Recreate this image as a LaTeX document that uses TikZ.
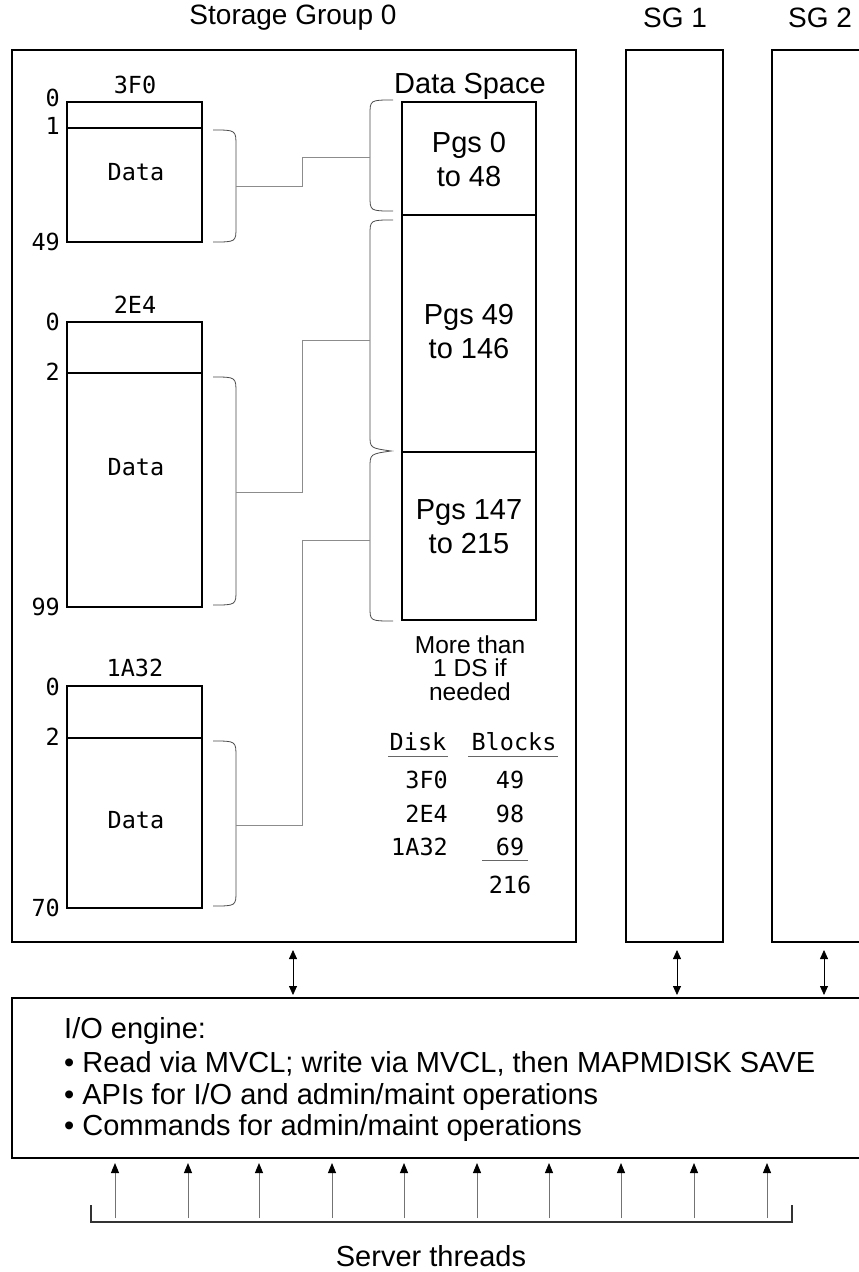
\documentclass[tikz,border=0pt]{standalone}
\usepackage{fontspec}
\setmainfont{Liberation Sans}
\newfontfamily\monof{DejaVu Sans Mono}
\usetikzlibrary{arrows.meta}
\tikzset{
  box/.style={draw, line width=1.6pt},
  thinbox/.style={draw, line width=1.3pt},
  conn/.style={draw=black!45, line width=0.9pt},
  brace/.style={draw=black!70, line width=0.8pt},
  mono/.style={font=\monof\fontsize{23.5}{26}\selectfont, inner sep=0pt},
  sans/.style={font=\fontsize{29}{34}\selectfont, inner sep=0pt},
  big/.style={font=\fontsize{28}{32}\selectfont, inner sep=0pt},
  dbl/.style={line width=0.8pt, {Triangle[length=9pt,width=8pt]}-{Triangle[length=9pt,width=8pt]}},
  up/.style={draw=black!55, line width=0.9pt, -{Triangle[length=10pt,width=8pt,color=black]}}
}
\begin{document}
\begin{tikzpicture}[x=1pt,y=-1pt]
\useasboundingbox (0,0) rectangle (859,1272);
\fill[white] (0,0) rectangle (859,1272);

% storage groups
\node[big] (t0) at (293,18) {Storage Group 0};
\node[big] (t1) at (675,18) {SG 1};
\node[big] (t2) at (820,18) {SG 2};
\draw[box] (12,50) rectangle (576,942);
\coordinate (sg0b) at (293,942);
\draw[box] (626,50) rectangle (723,942);
\coordinate (sg1b) at (677,942);
\draw[box] (880,50) -- (772,50) -- (772,942) -- (880,942);
\coordinate (sg2b) at (824,942);

% disk 3F0
\draw[thinbox] (67,102) rectangle (202,242);
\draw[thinbox] (67,128) -- (202,128);
\node[mono] (d1) at (135,85) {3F0};
\node[mono, anchor=east] (d1a) at (60,98) {0};
\node[mono, anchor=east] (d1b) at (60,126) {1};
\node[mono, anchor=east] (d1c) at (60,242) {49};
\node[mono] (d1d) at (136,172) {Data};
\draw[brace] (213,130) .. controls (236,130) .. (236,146) -- (236,227) .. controls (236,242) .. (213,242);
\coordinate (b1) at (236,186);

% disk 2E4
\draw[thinbox] (67,322) rectangle (202,607);
\draw[thinbox] (67,373) -- (202,373);
\node[mono] (d2) at (135,305) {2E4};
\node[mono, anchor=east] (d2a) at (60,322) {0};
\node[mono, anchor=east] (d2b) at (60,372) {2};
\node[mono, anchor=east] (d2c) at (60,607) {99};
\node[mono] (d2d) at (136,467) {Data};
\draw[brace] (213,377) .. controls (236,377) .. (236,393) -- (236,590) .. controls (236,605) .. (213,605);
\coordinate (b2) at (236,492);

% disk 1A32
\draw[thinbox] (67,686) rectangle (202,908);
\draw[thinbox] (67,738) -- (202,738);
\node[mono] (d3) at (135,668) {1A32};
\node[mono, anchor=east] (d3a) at (60,687) {0};
\node[mono, anchor=east] (d3b) at (60,737) {2};
\node[mono, anchor=east] (d3c) at (60,908) {70};
\node[mono] (d3d) at (136,820) {Data};
\draw[brace] (213,741) .. controls (236,741) .. (236,757) -- (236,891) .. controls (236,906) .. (213,906);
\coordinate (b3) at (236,825);

% data space
\node[sans] (dsl) at (470,86) {Data Space};
\draw[box] (402,102) rectangle (536,620);
\draw[box] (402,215) -- (536,215);
\draw[box] (402,452) -- (536,452);
\node[sans, align=center] (p1) at (469,160) {Pgs 0\\to 48};
\node[sans, align=center] (p2) at (469,332) {Pgs 49\\to 146};
\node[sans, align=center] (p3) at (469,527) {Pgs 147\\to 215};

% data space braces
\draw[brace] (393,100) .. controls (370,100) .. (370,115) -- (370,196) .. controls (370,211) .. (393,211);
\draw[brace] (393,220) .. controls (370,220) .. (370,235) -- (370,435) .. controls (370,448) .. (391,451) .. controls (370,454) .. (370,468) -- (370,607) .. controls (370,621) .. (393,621);
\coordinate (e1) at (370,157);
\coordinate (e2) at (370,340);
\coordinate (e3) at (370,540);

% connectors
\draw[conn] (b1) -- (302,186) -- (302,157) -- (e1);
\draw[conn] (b2) -- (302,492) -- (302,340) -- (e2);
\draw[conn] (b3) -- (302,825) -- (302,540) -- (e3);

% note and table
\node[font=\fontsize{24.5}{23.5}\selectfont, align=center, inner sep=0pt] (note) at (470,668) {More than\\1 DS if\\needed};
\node[mono] (hd) at (418,742) {Disk};
\node[mono] (hb) at (514,742) {Blocks};
\draw[line width=0.9pt, black!60] (388,756) -- (448,756);
\draw[line width=0.9pt, black!60] (468,756) -- (558,756);
\node[mono, anchor=east] (r1) at (448,780) {3F0};
\node[mono, anchor=east] (r2) at (448,814) {2E4};
\node[mono, anchor=east] (r3) at (448,847) {1A32};
\node[mono] (v1) at (510,780) {49};
\node[mono] (v2) at (510,814) {98};
\node[mono] (v3) at (510,847) {69};
\draw[line width=0.9pt, black!60] (482,860) -- (528,860);
\node[mono] (v4) at (510,885) {216};

% I/O engine
\draw[box] (880,998) -- (12,998) -- (12,1158) -- (880,1158);
\coordinate (io0) at (293,998);
\coordinate (io1) at (677,998);
\coordinate (io2) at (824,998);
\path (sg0b) ++(0,8) coordinate (a0) (io0) ++(0,-3) coordinate (c0);
\draw[dbl] (a0) -- (c0);
\path (sg1b) ++(0,8) coordinate (a1) (io1) ++(0,-3) coordinate (c1);
\draw[dbl] (a1) -- (c1);
\path (sg2b) ++(0,8) coordinate (a2) (io2) ++(0,-3) coordinate (c2);
\draw[dbl] (a2) -- (c2);

\node[sans, anchor=west] (io) at (64,1031) {I/O engine:};
\node[sans, anchor=west] (i1) at (64,1064) {\textbullet\ Read via MVCL; write via MVCL, then MAPMDISK SAVE};
\node[sans, anchor=west] (i2) at (64,1097) {\textbullet\ APIs for I/O and admin/maint operations};
\node[sans, anchor=west] (i3) at (64,1128) {\textbullet\ Commands for admin/maint operations};

% server threads
\draw[line width=1.4pt, black!80] (91,1205) -- (91,1222) -- (792,1222) -- (792,1205);
\foreach \x in {115,188,259,332,404,477,549,621,694,767} {
  \coordinate (s\x) at (\x,1218);
  \coordinate (t\x) at (\x,1163);
  \draw[up] (s\x) -- (t\x);
}
\node[sans] (st) at (431,1256) {Server threads};
\end{tikzpicture}
\end{document}
